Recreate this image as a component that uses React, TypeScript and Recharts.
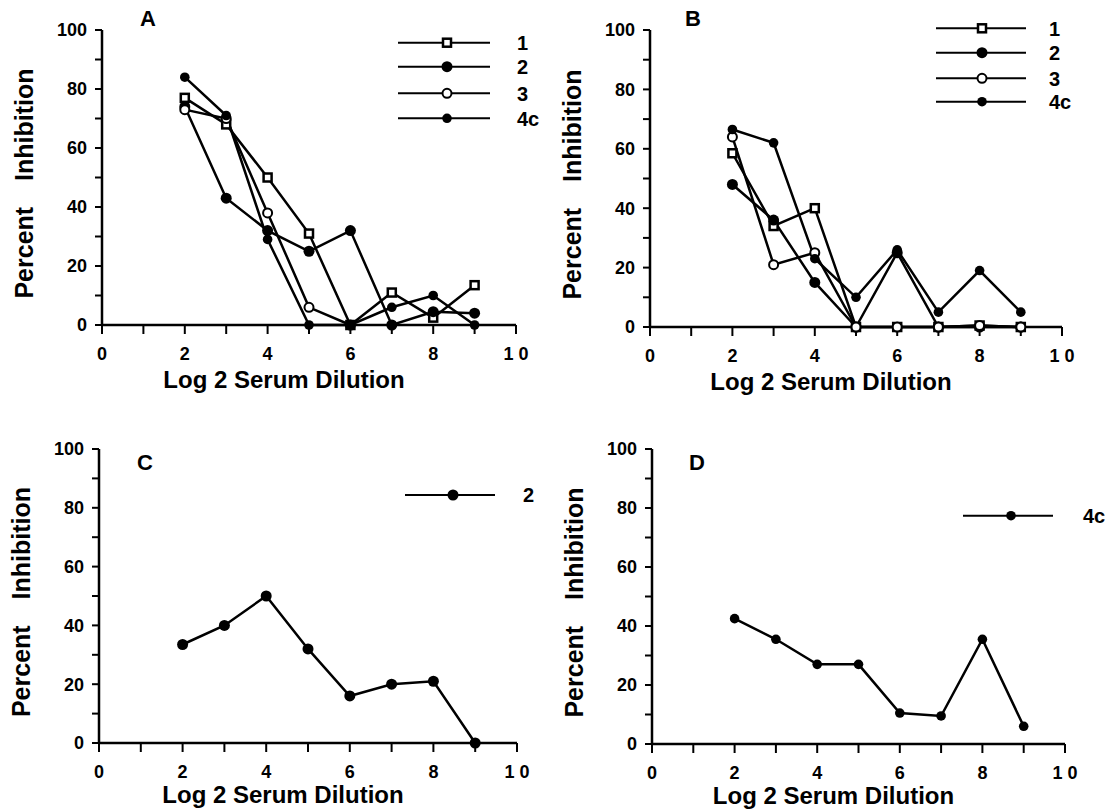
import React from 'react';
import {LineChart, Line, XAxis, YAxis, Legend, Customized} from 'recharts';

// log2 serum dilution steps used in every panel
const dilutions = [2, 3, 4, 5, 6, 7, 8, 9];
const xTicks = [0, 1, 2, 3, 4, 5, 6, 7, 8, 9, 10];
const yTicks = [0, 10, 20, 30, 40, 50, 60, 70, 80, 90, 100];

// panel A
const a1 = [77, 68, 50, 31, 0, 11, 2.5, 13.5];
const a2 = [74, 43, 32, 25, 32, 0, 4.5, 4];
const a3 = [73, 70, 38, 6, 0, null, null, null];
const a4c = [84, 71, 29, 0, 0, 6, 10, 0];

// panel B
const b1 = [58.5, 34, 40, 0, 0, 0, 0.5, 0];
const b2 = [48, 36, 15, 0, 25, 0, 0, 0];
const b3 = [64, 21, 25, 0, 0, 0, 0.5, 0];
const b4c = [66.5, 62, 23, 10, 26, 5, 19, 5];

// panel C / D
const c2 = [33.5, 40, 50, 32, 16, 20, 21, 0];
const d4c = [42.5, 35.5, 27, 27, 10.5, 9.5, 35.5, 6];

const seriesNames: Record<string, string> = {s1: '1', s2: '2', s3: '3', s4c: '4c'};
const markerOf: Record<string, string> = {s1: 'square', s2: 'dot', s3: 'ring', s4c: 'diamond'};

const FONT = '"Liberation Sans", Arial, Helvetica, sans-serif';

function rows(series: Record<string, (number | null)[]>) {
    return dilutions.map((x, i) => {
        const r: any = {x};
        for (const k in series) r[k] = series[k][i];
        return r;
    });
}

function drawMarker(kind: string, cx: number, cy: number, key?: any) {
    if (kind === 'square')
        return <rect key={key} x={cx - 4} y={cy - 4} width={8} height={8} fill="#fff" stroke="#000" strokeWidth={2.5}/>;
    if (kind === 'ring')
        return <circle key={key} cx={cx} cy={cy} r={4.5} fill="#fff" stroke="#000" strokeWidth={2}/>;
    if (kind === 'dot')
        return <circle key={key} cx={cx} cy={cy} r={5.5} fill="#000"/>;
    return <circle key={key} cx={cx} cy={cy} r={4.8} fill="#000"/>;
}

interface LegendCfg {
    left: number; top: number;
    x0: number; x1: number; mx: number; lx: number;
    rowY: number[];
}

function makeLegend(cfg: LegendCfg) {
    return (props: any) => {
        const items = props.payload || [];
        return (
            <svg width={170} height={cfg.rowY[cfg.rowY.length - 1] + 16}>
                {items.map((it: any, i: number) => {
                    const y = cfg.rowY[i];
                    return (
                        <g key={i}>
                            <line x1={cfg.x0} x2={cfg.x1} y1={y} y2={y} stroke="#000" strokeWidth={2}/>
                            {drawMarker(markerOf[it.dataKey], cfg.mx, y)}
                            <text x={cfg.lx} y={y} dy="0.36em" fontSize={20} fontWeight="bold"
                                  fontFamily={FONT} fill="#000">{it.value}</text>
                        </g>
                    );
                })}
            </svg>
        );
    };
}

interface PanelProps {
    left: number; top: number; width: number; height: number;
    margin: {top: number; right: number; bottom: number; left: number};
    yAxisWidth: number; xAxisHeight: number; titleDy: number;
    data: any[]; keys: string[];
    letter: string; letterX: number; letterY: number;
    legend: LegendCfg;
}

const tickStyle = {fill: '#000', fontSize: 18, fontWeight: 'bold', fontFamily: FONT};

function Panel(p: PanelProps) {
    const yLabel = (lp: any) => {
        const vb = lp.viewBox;
        const x = vb.x + vb.width - 69;
        const y = vb.y + vb.height / 2 + 6;
        return (
            <text x={x} y={y} transform={`rotate(-90, ${x}, ${y})`} textAnchor="middle"
                  fontSize={25} fontWeight="bold" fontFamily={FONT} fill="#000">
                <tspan>Percent</tspan><tspan dx={19}> Inhibition</tspan>
            </text>
        );
    };
    const xLabel = (lp: any) => {
        const vb = lp.viewBox;
        return (
            <text x={vb.x + vb.width / 2 - 25} y={vb.y + p.titleDy} textAnchor="middle"
                  fontSize={24} fontWeight="bold" fontFamily={FONT} fill="#000">
                Log 2 Serum Dilution
            </text>
        );
    };
    return (
        <div style={{position: 'absolute', left: p.left, top: p.top}}>
            <LineChart width={p.width} height={p.height} data={p.data} margin={p.margin}>
                <XAxis type="number" dataKey="x" domain={[0, 10]} ticks={xTicks} interval={0}
                       tickFormatter={(v: number) => v % 2 === 0 ? (v === 10 ? '1 0' : String(v)) : ''}
                       axisLine={{stroke: '#000', strokeWidth: 2.5}} tickLine={{stroke: '#000', strokeWidth: 2}}
                       tickSize={9} tickMargin={13} tick={tickStyle} height={p.xAxisHeight}
                       label={xLabel}/>
                <YAxis type="number" domain={[0, 100]} ticks={yTicks} interval={0}
                       tickFormatter={(v: number) => v % 20 === 0 ? String(v) : ''}
                       axisLine={{stroke: '#000', strokeWidth: 2.5}} tickLine={{stroke: '#000', strokeWidth: 2}}
                       tickSize={7} tickMargin={8} tick={tickStyle} width={p.yAxisWidth}
                       label={yLabel}/>
                <Legend layout="vertical" align="center" verticalAlign="middle"
                        wrapperStyle={{position: 'absolute', left: p.legend.left, top: p.legend.top, width: 170}}
                        content={makeLegend(p.legend)}/>
                {p.keys.map(k => (
                    <Line key={k} dataKey={k} name={seriesNames[k]} stroke="#000" strokeWidth={2.5}
                          isAnimationActive={false} activeDot={false}
                          dot={(d: any) => d.cy == null ? <g key={d.index}/> : drawMarker(markerOf[k], d.cx, d.cy, d.index)}/>
                ))}
                <Customized component={() => (
                    <text x={p.letterX} y={p.letterY} fontSize={22} fontWeight="bold" fontFamily={FONT}
                          fill="#000">{p.letter}</text>
                )}/>
            </LineChart>
        </div>
    );
}

export default function App() {
    const dataA = rows({s1: a1, s2: a2, s3: a3, s4c: a4c});
    const dataB = rows({s1: b1, s2: b2, s3: b3, s4c: b4c});
    const dataC = rows({s2: c2});
    const dataD = rows({s4c: d4c});

    return (
        <div style={{position: 'absolute', left: 0, top: 0, width: 1107, height: 810, background: '#fff'}}>
            <Panel left={0} top={0} width={553} height={400}
                   margin={{top: 30, right: 37, bottom: 5, left: 0}} yAxisWidth={102} xAxisHeight={70} titleDy={63}
                   data={dataA} keys={['s1', 's2', 's3', 's4c']}
                   letter="A" letterX={140} letterY={26}
                   legend={{left: 390, top: 30, x0: 8, x1: 100, mx: 57, lx: 127, rowY: [12.7, 36.7, 63.3, 88.3]}}/>
            <Panel left={553} top={0} width={554} height={400}
                   margin={{top: 30, right: 45, bottom: 3, left: 0}} yAxisWidth={97} xAxisHeight={70} titleDy={63}
                   data={dataB} keys={['s1', 's2', 's3', 's4c']}
                   letter="B" letterX={132} letterY={26}
                   legend={{left: 375, top: 16, x0: 8, x1: 98, mx: 54, lx: 121, rowY: [12.3, 36.7, 62.3, 85.7]}}/>
            <Panel left={0} top={400} width={553} height={410}
                   margin={{top: 49, right: 36, bottom: 5, left: 0}} yAxisWidth={99} xAxisHeight={62} titleDy={60}
                   data={dataC} keys={['s2']}
                   letter="C" letterX={137} letterY={70}
                   legend={{left: 397, top: 83, x0: 8, x1: 98, mx: 56, lx: 126, rowY: [12]}}/>
            <Panel left={553} top={400} width={554} height={410}
                   margin={{top: 49, right: 42, bottom: 4, left: 0}} yAxisWidth={99} xAxisHeight={62} titleDy={60}
                   data={dataD} keys={['s4c']}
                   letter="D" letterX={136} letterY={70}
                   legend={{left: 402, top: 104, x0: 8, x1: 98, mx: 56, lx: 128, rowY: [11.7]}}/>
        </div>
    );
}
